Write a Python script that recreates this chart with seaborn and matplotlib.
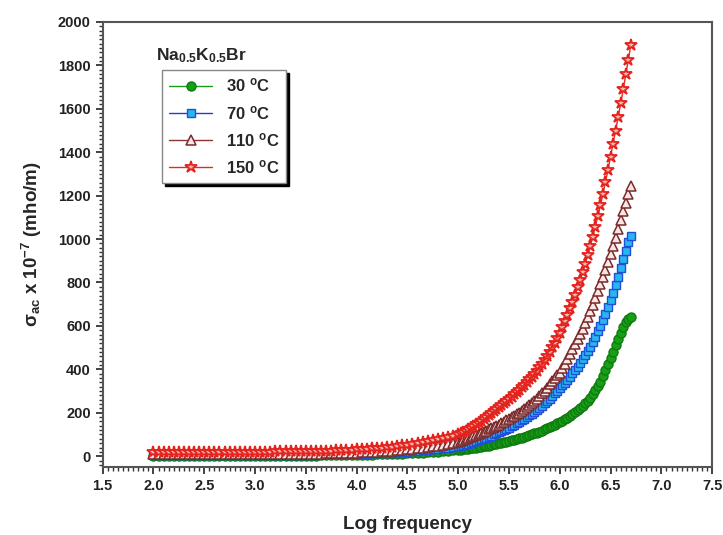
import numpy as np
import pandas as pd
import seaborn as sns
import matplotlib.pyplot as plt
from matplotlib.ticker import MultipleLocator

# log frequency values (shared by all four temperatures)
log_freq = [2.0, 2.05, 2.1, 2.15, 2.2, 2.25, 2.3, 2.35, 2.4, 2.45,
            2.5, 2.55, 2.6, 2.65, 2.7, 2.75, 2.8, 2.85, 2.9, 2.95,
            3.0, 3.05, 3.1, 3.15, 3.2, 3.25, 3.3, 3.35, 3.4, 3.45,
            3.5, 3.55, 3.6, 3.65, 3.7, 3.75, 3.8, 3.85, 3.9, 3.95,
            4.0, 4.05, 4.1, 4.15, 4.2, 4.25, 4.3, 4.35, 4.4, 4.45,
            4.5, 4.55, 4.6, 4.65, 4.7, 4.75, 4.8, 4.85, 4.9, 4.95,
            5.0, 5.025, 5.05, 5.075, 5.1, 5.125, 5.15, 5.175, 5.2, 5.225,
            5.25, 5.275, 5.3, 5.325, 5.35, 5.375, 5.4, 5.425, 5.45, 5.475,
            5.5, 5.525, 5.55, 5.575, 5.6, 5.625, 5.65, 5.675, 5.7, 5.725,
            5.75, 5.775, 5.8, 5.825, 5.85, 5.875, 5.9, 5.925, 5.95, 5.975,
            6.0, 6.025, 6.05, 6.075, 6.1, 6.125, 6.15, 6.175, 6.2, 6.225,
            6.25, 6.275, 6.3, 6.325, 6.35, 6.375, 6.4, 6.425, 6.45, 6.475,
            6.5, 6.525, 6.55, 6.575, 6.6, 6.625, 6.65, 6.675, 6.7]

# sigma_ac x 1e-7 (mho/m)
sigma_30 = [1, 1, 1, 1, 1, 1, 1, 1, 1, 1,
            1, 1, 1, 1, 1, 2, 2, 2, 2, 2,
            2, 2, 2, 2, 2, 2, 3, 3, 3, 3,
            3, 3, 3, 4, 4, 4, 4, 5, 5, 5,
            6, 6, 7, 7, 8, 8, 9, 10, 11, 12,
            13, 14, 15, 16, 18, 19, 21, 23, 25, 27,
            29, 30, 32, 34, 35, 37, 38, 40, 41, 43,
            45, 47, 49, 51, 54, 56, 59, 61, 64, 67,
            70, 73, 76, 79, 82, 86, 89, 93, 97, 101,
            105, 109, 113, 118, 123, 128, 133, 139, 145, 151,
            157, 164, 171, 178, 186, 194, 202, 211, 220, 231,
            243, 256, 270, 286, 303, 322, 343, 368, 395, 423,
            452, 481, 510, 539, 567, 594, 617, 633, 640]
sigma_70 = [4, 4, 4, 4, 4, 4, 4, 4, 4, 4,
            4, 4, 4, 4, 4, 4, 4, 5, 5, 5,
            5, 5, 5, 5, 5, 6, 6, 6, 6, 6,
            7, 7, 7, 8, 8, 8, 9, 9, 10, 10,
            11, 12, 12, 13, 14, 15, 16, 17, 18, 20,
            21, 23, 25, 27, 29, 31, 34, 37, 40, 43,
            47, 49, 52, 55, 58, 62, 66, 70, 74, 78,
            82, 86, 90, 95, 100, 105, 110, 115, 120, 126,
            132, 138, 144, 151, 158, 165, 172, 180, 188, 196,
            205, 214, 223, 233, 243, 254, 265, 277, 289, 301,
            313, 326, 339, 353, 367, 382, 397, 413, 430, 447,
            465, 485, 505, 527, 550, 575, 600, 627, 655, 686,
            718, 752, 788, 826, 866, 906, 946, 985, 1015]
sigma_110 = [8, 8, 8, 8, 8, 8, 8, 8, 8, 8,
             8, 8, 8, 8, 8, 9, 9, 9, 9, 9,
             9, 9, 9, 9, 10, 10, 10, 10, 11, 11,
             11, 11, 12, 12, 13, 13, 14, 14, 15, 16,
             17, 18, 19, 20, 21, 23, 24, 26, 27, 29,
             31, 33, 36, 39, 42, 45, 49, 53, 57, 61,
             66, 70, 74, 78, 83, 88, 93, 98, 103, 108,
             113, 118, 123, 128, 133, 139, 145, 151, 158, 165,
             172, 179, 186, 193, 200, 208, 216, 225, 234, 244,
             254, 265, 276, 289, 302, 316, 331, 346, 361, 373,
             385, 405, 426, 447, 469, 492, 515, 539, 563, 588,
             614, 641, 669, 698, 728, 759, 791, 824, 858, 893,
             930, 968, 1007, 1047, 1088, 1128, 1168, 1207, 1245]
sigma_150 = [18, 18, 18, 18, 18, 18, 18, 18, 18, 19,
             19, 19, 19, 19, 19, 19, 20, 20, 20, 20,
             21, 21, 21, 21, 22, 22, 22, 22, 23, 23,
             24, 24, 25, 25, 26, 26, 27, 28, 29, 30,
             31, 32, 34, 36, 38, 40, 42, 44, 47, 50,
             53, 56, 60, 64, 68, 73, 78, 84, 90, 95,
             100, 106, 112, 118, 125, 132, 139, 147, 155, 163,
             171, 180, 189, 198, 207, 216, 225, 234, 244, 254,
             264, 274, 285, 296, 307, 318, 330, 342, 354, 367,
             380, 394, 409, 425, 442, 460, 480, 501, 522, 544,
             567, 594, 622, 651, 681, 712, 744, 777, 811, 847,
             885, 925, 967, 1011, 1057, 1105, 1155, 1208, 1263, 1320,
             1380, 1440, 1500, 1562, 1625, 1690, 1758, 1826, 1895]

labels = ['30 $^{o}$C', '70 $^{o}$C', '110 $^{o}$C', '150 $^{o}$C']

sns.set_style('ticks')
plt.rcParams['font.family'] = ['Liberation Sans', 'DejaVu Sans']
plt.rcParams['font.weight'] = 'bold'
plt.rcParams['mathtext.fontset'] = 'custom'
plt.rcParams['mathtext.rm'] = 'Liberation Sans:bold'
plt.rcParams['mathtext.it'] = 'Liberation Sans:bold'
plt.rcParams['mathtext.bf'] = 'Liberation Sans:bold'

fig = plt.figure(figsize=(7.23, 5.35), dpi=100)
ax = fig.add_axes([0.142, 0.127, 0.843, 0.832])

styles = [
    dict(color='#1c9a1c', marker='o', markerfacecolor='#16a016', markeredgecolor='#0f7a0f',
         markersize=6.5, markeredgewidth=1.0),
    dict(color='#1f3fd0', marker='s', markerfacecolor='#2bb5f0', markeredgecolor='#1f4fd8',
         markersize=6, markeredgewidth=1.0),
    dict(color='#8a3434', marker='^', markerfacecolor='#fbe6e6', markeredgecolor='#7a2a2a',
         markersize=7, markeredgewidth=1.1),
    dict(color='#e42a22', marker='*', markerfacecolor='#f8b4b4', markeredgecolor='#e4231d',
         markersize=9, markeredgewidth=1.3),
]
series = [sigma_30, sigma_70, sigma_110, sigma_150]

for vals, lab, st in zip(series, labels, styles):
    df = pd.DataFrame({'logf': log_freq, 'sigma': vals})
    sns.lineplot(data=df, x='logf', y='sigma', ax=ax, label=lab, estimator=None,
                 linewidth=1.0, **st)

ax.set_xlim(1.5, 7.5)
ax.set_ylim(-50, 2000)
ax.xaxis.set_minor_locator(MultipleLocator(0.05))
ax.yaxis.set_major_locator(MultipleLocator(200))
ax.yaxis.set_minor_locator(MultipleLocator(20))
ax.set_xticks(np.arange(1.5, 7.51, 0.5))
ax.set_xticklabels([f'{v:.1f}' for v in np.arange(1.5, 7.51, 0.5)])
ax.tick_params(which='major', direction='out', length=5, width=1.2, labelsize=10.5, colors='#222222')
ax.tick_params(which='minor', direction='out', length=3, width=1.0, colors='#333333')
ax.tick_params(top=False, right=False, which='both')
for s in ax.spines.values():
    s.set_linewidth(1.5)
    s.set_color('#555555')

ax.set_xlabel('Log frequency', fontsize=13.5, fontweight='bold', labelpad=17)
ax.set_ylabel('σ$_{ac}$ x 10$^{-7}$ (mho/m)', fontsize=13.5, fontweight='bold', labelpad=10)

leg = ax.legend(loc='upper left', bbox_to_anchor=(0.098, 0.892), borderaxespad=0,
                fontsize=12, handlelength=2.6, labelspacing=0.55, fancybox=False,
                frameon=True, shadow={'color': 'black', 'alpha': 1.0}, markerscale=1.0)
leg.get_frame().set_edgecolor('#888888')
leg.get_frame().set_linewidth(1.0)
ax.text(0.162, 0.925, 'Na$_{0.5}$K$_{0.5}$Br', transform=ax.transAxes,
        ha='center', va='center', fontsize=12.5, fontweight='bold')

fig.savefig('out.png', dpi=100)
